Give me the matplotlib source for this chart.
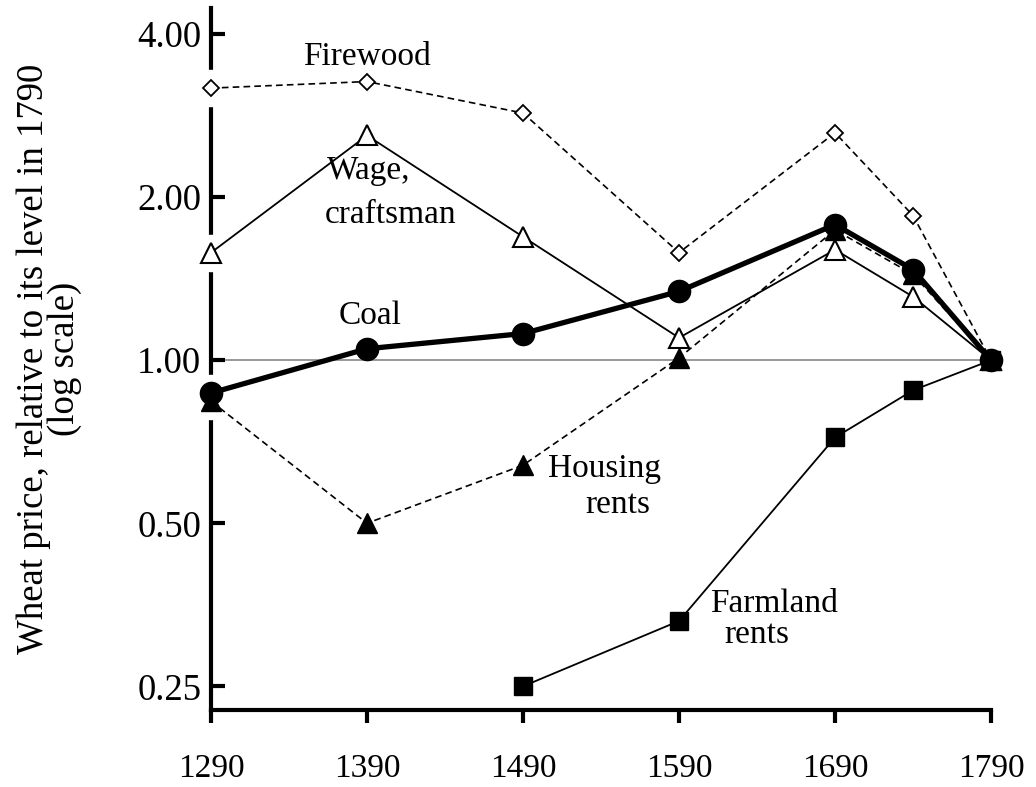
import numpy as np
import matplotlib
matplotlib.use("Agg")
import matplotlib.pyplot as plt

plt.rcParams['font.family'] = ['Liberation Serif', 'DejaVu Serif']

years = [1290, 1390, 1490, 1590, 1690, 1740, 1790]
firewood = [3.18, 3.27, 2.86, 1.58, 2.63, 1.85, 1.0]
wage = [1.58, 2.60, 1.69, 1.10, 1.60, 1.31, 1.0]
coal = [0.87, 1.05, 1.12, 1.34, 1.78, 1.47, 1.0]
housing = [0.84, 0.50, 0.64, 1.01, 1.74, 1.44, 1.0]
farm_years = [1490, 1590, 1690, 1740, 1790]
farmland = [0.25, 0.33, 0.72, 0.88, 1.0]

yticks = [0.25, 0.5, 1.0, 2.0, 4.0]
ytick_labels = ['0.25', '0.50', '1.00', '2.00', '4.00']

fig = plt.figure(figsize=(10.36, 7.87), dpi=100)
ax = fig.add_axes([0.2037, 0.0978, 0.7529, 0.892])

ax.set_yscale('log')
ax.set_xlim(1290, 1790)
ax.set_ylim(0.226, 4.47)

# reference line at 1.00
ax.axhline(1.0, color='#888888', lw=1.2, zorder=1)

# white halos where markers sit on the y axis
for vals, m in [(firewood, 's'), (wage, 'o'), (coal, 'o'), (housing, 'o')]:
    ax.plot(years[0], vals[0], m, ms=26, color='white', mec='white',
            zorder=3, clip_on=False)

ax.plot(years, firewood, color='black', ls=(0, (4, 2.5)), lw=1.2,
        marker='D', ms=8, mfc='white', mec='black', mew=1.3,
        zorder=4, clip_on=False)
ax.plot(years, wage, color='black', lw=1.3,
        marker='^', ms=15, mfc='white', mec='black', mew=1.5,
        zorder=4, clip_on=False)
ax.plot(years, housing, color='black', ls=(0, (4, 2.5)), lw=1.2,
        marker='^', ms=15, mfc='black', mec='black',
        zorder=4, clip_on=False)
ax.plot(farm_years, farmland, color='black', lw=1.3,
        marker='s', ms=13, mfc='black', mec='black',
        zorder=4, clip_on=False)
ax.plot(years, coal, color='black', lw=3.8,
        marker='o', ms=16, mfc='black', mec='black',
        zorder=5, clip_on=False)

fs = 24
ax.text(1390, 3.63, 'Firewood', ha='center', va='center', fontsize=fs)
ax.text(1364, 2.24, 'Wage,', ha='left', va='center', fontsize=fs)
ax.text(1363, 1.86, 'craftsman', ha='left', va='center', fontsize=fs)
ax.text(1392, 1.206, 'Coal', ha='center', va='center', fontsize=fs)
ax.text(1506, 0.63, 'Housing', ha='left', va='center', fontsize=fs)
ax.text(1530, 0.54, 'rents', ha='left', va='center', fontsize=fs)
ax.text(1610, 0.355, 'Farmland', ha='left', va='center', fontsize=fs)
ax.text(1619, 0.311, 'rents', ha='left', va='center', fontsize=fs)

ax.set_yticks(yticks)
ax.set_yticklabels(ytick_labels)
ax.minorticks_off()
ax.set_xticks(years[:5] + [years[-1]])

ax.spines['top'].set_visible(False)
ax.spines['right'].set_visible(False)
for s in ['left', 'bottom']:
    ax.spines[s].set_linewidth(3)
    ax.spines[s].set_zorder(2.5)

ax.tick_params(axis='y', direction='in', length=10, width=3, pad=7,
               labelsize=26.5)
ax.tick_params(axis='x', direction='out', length=9, width=3, pad=22,
               labelsize=fs)

ax.set_ylabel('Wheat price, relative to its level in 1790\n(log scale)',
              fontsize=26.5, labelpad=40, linespacing=0.85)

fig.savefig('out.png', dpi=100)
